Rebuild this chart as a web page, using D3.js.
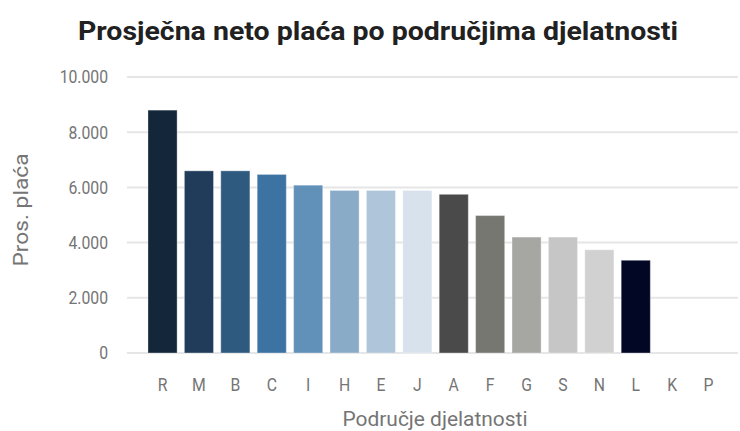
<!DOCTYPE html>
<html><head><meta charset="utf-8">
<script src="https://cdn.jsdelivr.net/npm/d3@7"></script>
<style>body{margin:0;background:#fff}svg{display:block;font-family:Roboto,sans-serif}</style>
</head><body><svg id="c" width="740" height="431"></svg>
<script>
const categories = ["R","M","B","C","I","H","E","J","A","F","G","S","N","L","K","P"];
const values = [8800,6600,6600,6470,6080,5890,5890,5890,5750,4980,4200,4200,3740,3360,null,null];
const colors = ["#13263a","#203c5a","#2e5a80","#3d73a2","#6190b8","#8aabc8","#afc5da","#d8e2ed","#4a4a4a","#777772","#a6a6a2","#c6c6c6","#d1d1d1","#020726","#cccccc","#cccccc"];
const yTicks = [0,2000,4000,6000,8000,10000];

const svg = d3.select("#c");
const x = d3.scaleBand().domain(categories).range([140.7,730.4]).padding(0.2);
const y = d3.scaleLinear().domain([0,10000]).range([353,77]);
const fmt = d => d3.format(",")(d).replace(/,/g,".");

// gridlines
svg.append("g").selectAll("line").data(yTicks).join("line")
  .attr("x1",127).attr("x2",738).attr("y1",d=>y(d)).attr("y2",d=>y(d))
  .attr("stroke","#e6e6e6").attr("stroke-width",2);

// y tick labels
svg.append("g").selectAll("text").data(yTicks).join("text")
  .attr("transform",d=>`translate(108,${y(d)}) scale(0.9,1)`).attr("dy","0.36em").attr("text-anchor","end")
  .attr("font-size",17.5).attr("fill","#757575").text(fmt);

// bars
const data = categories.map((c,i)=>({c,v:values[i],col:colors[i]})).filter(d=>d.v!=null);
svg.append("g").selectAll("rect").data(data).join("rect")
  .attr("x",d=>x(d.c)).attr("width",x.bandwidth())
  .attr("y",d=>y(d.v)).attr("height",d=>y(0)-y(d.v))
  .attr("fill",d=>d.col).attr("stroke","rgba(255,255,255,0.35)").attr("stroke-width",1);

// x tick labels
svg.append("g").selectAll("text").data(categories).join("text")
  .attr("transform",d=>`translate(${x(d)+x.bandwidth()/2},391) scale(0.9,1)`).attr("text-anchor","middle")
  .attr("font-size",17.5).attr("fill","#757575").text(d=>d);

// titles
svg.append("text").attr("x",378).attr("y",40).attr("text-anchor","middle")
  .attr("font-size",26).attr("font-weight","bold").attr("fill","#212121")
  .attr("textLength",600).attr("lengthAdjust","spacingAndGlyphs")
  .text("Prosječna neto plaća po područjima djelatnosti");
svg.append("text").attr("x",435).attr("y",426).attr("text-anchor","middle")
  .attr("font-size",20).attr("fill","#757575")
  .attr("textLength",185).attr("lengthAdjust","spacingAndGlyphs").text("Područje djelatnosti");
svg.append("text").attr("transform","translate(28,210) rotate(-90)").attr("text-anchor","middle")
  .attr("font-size",21).attr("fill","#757575")
  .attr("textLength",113).attr("lengthAdjust","spacingAndGlyphs").text("Pros. plaća");
</script></body></html>
